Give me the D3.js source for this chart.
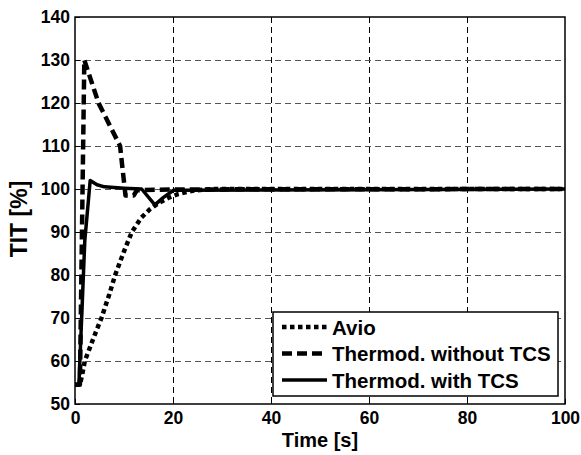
<!DOCTYPE html>
<html>
<head>
<meta charset="utf-8">
<script src="https://cdnjs.cloudflare.com/ajax/libs/d3/7.8.5/d3.min.js"></script>
<style>
    body { margin: 0; background: #fff; }
    text { font-family: "Liberation Sans", Arial, Helvetica, sans-serif; font-weight: bold; }
</style>
</head>
<body>
<div id="chart"></div>
<script>
// tick values
const xTicks = [0, 20, 40, 60, 80, 100];
const yTicks = [50, 60, 70, 80, 90, 100, 110, 120, 130, 140];

// series: [time s, TIT %]
const avio = [
    [0, 54.5], [1, 54.5], [1.5, 57], [2, 60], [3, 63], [4, 66], [5.4, 70],
    [7, 75.5], [8.2, 80], [10, 85.5], [11.6, 90], [13.5, 93.3], [15.3, 95.3],
    [17, 96.7], [19, 97.9], [21, 98.8], [24, 99.6], [28, 100], [100, 100]
];
const withoutTcs = [
    [0, 54.5], [1, 54.5], [1.9, 130], [4.8, 120], [9.2, 110], [10.3, 98.5],
    [12, 98.5], [12.6, 99.7], [20, 99.9], [100, 100]
];
const withTcs = [
    [0, 54.5], [0.8, 54.5], [2, 88], [3.1, 102], [4.5, 101], [6, 100.5],
    [10, 100.2], [13.6, 100], [16.3, 96.3], [18, 98], [20.1, 99.7], [100, 100]
];
const legendNames = ["Avio", "Thermod. without TCS", "Thermod. with TCS"];

const width = 581, height = 455;
const margin = { top: 17, right: 16, bottom: 51, left: 75 };
const w = width - margin.left - margin.right;
const h = height - margin.top - margin.bottom;

const svg = d3.select("#chart").append("svg")
    .attr("width", width)
    .attr("height", height);

const plot = svg.append("g")
    .attr("transform", `translate(${margin.left},${margin.top})`);

const x = d3.scaleLinear().domain([0, 100]).range([0, w]);
const y = d3.scaleLinear().domain([50, 140]).range([h, 0]);

// grid (half pixel offset keeps the 1px dashes crisp)
plot.append("g").selectAll("line")
    .data(xTicks.slice(1, -1))
    .join("line")
    .attr("x1", d => Math.round(x(d)) + 0.5).attr("x2", d => Math.round(x(d)) + 0.5)
    .attr("y1", 0).attr("y2", h)
    .attr("stroke", "#000").attr("stroke-width", 1)
    .attr("stroke-dasharray", "6,4");

plot.append("g").selectAll("line")
    .data(yTicks.slice(1, -1))
    .join("line")
    .attr("x1", 0).attr("x2", w)
    .attr("y1", d => Math.round(y(d)) + 0.5).attr("y2", d => Math.round(y(d)) + 0.5)
    .attr("stroke", "#555").attr("stroke-width", 1)
    .attr("stroke-dasharray", "6,4");

// axes
const xAxis = d3.axisBottom(x).tickValues(xTicks).tickSize(-5).tickPadding(8);
const yAxis = d3.axisLeft(y).tickValues(yTicks).tickSize(-5).tickPadding(5);

plot.append("g")
    .attr("transform", `translate(0,${h})`)
    .call(xAxis)
    .call(g => g.select(".domain").remove())
    .selectAll("text").attr("font-size", 17.5).attr("fill", "#000");

plot.append("g")
    .call(yAxis)
    .call(g => g.select(".domain").remove())
    .selectAll("text").attr("font-size", 17.5).attr("fill", "#000");

// frame
plot.append("rect")
    .attr("width", w).attr("height", h)
    .attr("fill", "none").attr("stroke", "#000").attr("stroke-width", 1.5);

// lines
const line = d3.line().x(d => x(d[0])).y(d => y(d[1]));
const styles = [
    { data: avio, dash: "4.5,3.5", width: 4.5 },
    { data: withoutTcs, dash: "10,5", width: 4.5 },
    { data: withTcs, dash: null, width: 3.5 }
];

styles.forEach(s => {
    plot.append("path")
        .datum(s.data)
        .attr("d", line)
        .attr("fill", "none")
        .attr("stroke", "#000")
        .attr("stroke-width", s.width)
        .attr("stroke-linejoin", "round")
        .attr("stroke-dasharray", s.dash);
});

// legend
const lg = svg.append("g").attr("transform", "translate(273,312)");
lg.append("rect")
    .attr("width", 285).attr("height", 84)
    .attr("fill", "#fff").attr("stroke", "#000").attr("stroke-width", 1.5);

legendNames.forEach((name, i) => {
    const yy = 15 + i * 26.5;
    lg.append("line")
        .attr("x1", 9).attr("x2", 54)
        .attr("y1", yy).attr("y2", yy)
        .attr("stroke", "#000")
        .attr("stroke-width", styles[i].width)
        .attr("stroke-dasharray", styles[i].dash);
    lg.append("text")
        .attr("x", 59).attr("y", yy + 7.5)
        .attr("font-size", 20.5)
        .text(name);
});

// axis titles
svg.append("text")
    .attr("x", 320).attr("y", 447)
    .attr("text-anchor", "middle")
    .attr("font-size", 20)
    .text("Time [s]");

svg.append("text")
    .attr("transform", "translate(27,219) rotate(-90)")
    .attr("text-anchor", "middle")
    .attr("font-size", 23)
    .text("TIT [%]");
</script>
</body>
</html>
